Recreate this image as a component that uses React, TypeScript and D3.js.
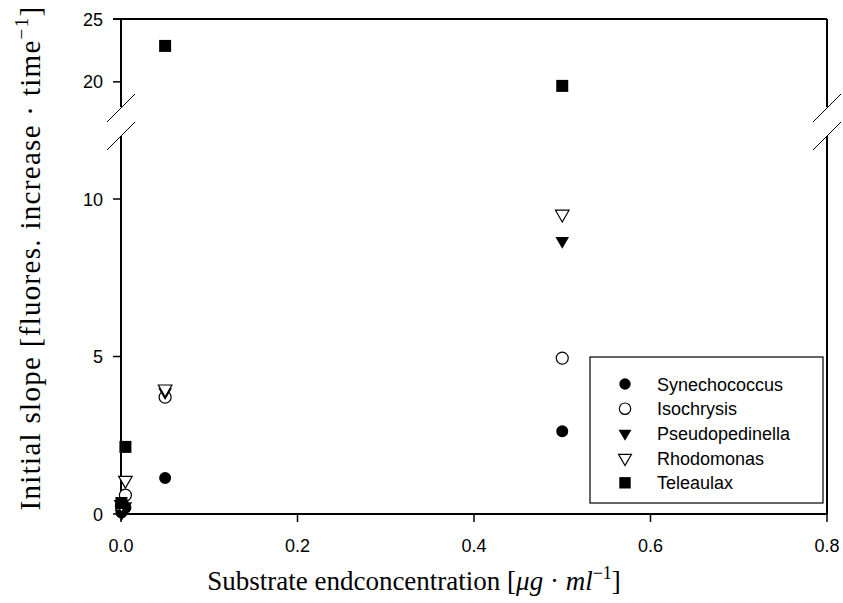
import React from "react";
import * as d3 from "d3";

const concentrations = [0.0005, 0.005, 0.05, 0.5];
const synechococcus = [0.05, 0.2, 1.14, 2.63];
const isochrysis = [0.25, 0.6, 3.71, 4.95];
const pseudopedinella = [0.02, 0.25, 3.87, 8.67];
const rhodomonas = [0.3, 1.07, 3.97, 9.52];
const teleaulax = [0.35, 2.13, 22.86, 19.68];

const seriesNames = ["Synechococcus", "Isochrysis", "Pseudopedinella", "Rhodomonas", "Teleaulax"];
const xTicks = [0, 0.2, 0.4, 0.6, 0.8];
const yTicksLow = [0, 5, 10];
const yTicksHigh = [20, 25];

type Style = { shape: "circle" | "tri" | "square"; fill: boolean };
const styles: Style[] = [
  { shape: "circle", fill: true },
  { shape: "circle", fill: false },
  { shape: "tri", fill: true },
  { shape: "tri", fill: false },
  { shape: "square", fill: true },
];
const seriesValues = [synechococcus, isochrysis, pseudopedinella, rhodomonas, teleaulax];

const L = 121, R = 827, T = 19, B = 514;
const x = d3.scaleLinear().domain([0, 0.8]).range([L, R]);
const yLow = d3.scaleLinear().domain([0, 12]).range([B, 136]);
const yHigh = d3.scaleLinear().domain([18, 25]).range([107, T]);
const y = (v: number) => (v <= 15 ? yLow(v) : yHigh(v));

function Marker({ cx, cy, st, scale = 1 }: { cx: number; cy: number; st: Style; scale?: number }) {
  let type: d3.SymbolType = d3.symbolCircle;
  let size = 113;
  let rot = 0;
  if (st.shape === "square") { type = d3.symbolSquare; size = 144; }
  if (st.shape === "tri") { type = d3.symbolTriangle; size = 80; rot = 180; }
  const path = d3.symbol().type(type).size(size * scale * scale)()!;
  return (
    <path
      d={path}
      transform={`translate(${cx},${cy}) rotate(${rot})`}
      fill={st.fill ? "#000" : "#fff"}
      stroke="#000"
      strokeWidth={st.fill ? 0 : 1.2}
    />
  );
}

export default function App() {
  const sans = "Liberation Sans";
  const serif = "Liberation Serif";
  const legX = 590, legY = 357, legW = 233, legH = 146;
  return (
    <svg width={843} height={603} style={{ position: "absolute", left: 0, top: 0, background: "#fff" }}>
      <rect x={0} y={0} width={843} height={603} fill="#fff" />
      <g stroke="#000" strokeWidth={2} fill="none">
        <line x1={L} y1={T} x2={L} y2={107} />
        <line x1={L} y1={136} x2={L} y2={B} />
        <line x1={R} y1={T} x2={R} y2={107} />
        <line x1={R} y1={136} x2={R} y2={B} />
        <line x1={L - 8} y1={T} x2={R} y2={T} />
        <line x1={L} y1={B} x2={R} y2={B} />
      </g>
      <g stroke="#000" strokeWidth={1} fill="none">
        {[L, R].map((ax) => (
          <g key={ax}>
            <line x1={ax - 14} y1={122} x2={ax + 14} y2={94} />
            <line x1={ax - 14} y1={150} x2={ax + 14} y2={122} />
          </g>
        ))}
      </g>
      {xTicks.map((t) => (
        <g key={t}>
          <line x1={x(t)} x2={x(t)} y1={B} y2={B + 8} stroke="#000" strokeWidth={1.5} />
          <text x={x(t)} y={552} textAnchor="middle" fontFamily={sans} fontSize={18}>
            {d3.format(".1f")(t)}
          </text>
        </g>
      ))}
      {[...yTicksLow, ...yTicksHigh].map((t) => (
        <g key={t}>
          <line x1={L - 8} x2={L} y1={y(t)} y2={y(t)} stroke="#000" strokeWidth={1.5} />
          <text x={103} y={y(t) + 6.5} textAnchor="end" fontFamily={sans} fontSize={18}>
            {t}
          </text>
        </g>
      ))}
      {seriesValues.map((vals, si) =>
        vals.map((v, i) => (
          <Marker key={`${si}-${i}`} cx={x(concentrations[i])} cy={y(v)} st={styles[si]} />
        ))
      )}
      <rect x={legX} y={legY} width={legW} height={legH} fill="#fff" stroke="#000" strokeWidth={1.2} />
      {seriesNames.map((name, i) => (
        <g key={name}>
          <Marker cx={625} cy={384 + i * 24.7} st={styles[i]} scale={0.95} />
          <text x={657} y={384 + i * 24.7 + 6.5} fontFamily={sans} fontSize={18}>
            {name}
          </text>
        </g>
      ))}
      <text x={414} y={590} textAnchor="middle" fontFamily={serif} fontSize={27}>
        Substrate endconcentration [<tspan fontStyle="italic">μg</tspan> · <tspan fontStyle="italic">ml</tspan>
        <tspan dy={-11} fontSize={18}>−1</tspan>
        <tspan dy={11}>]</tspan>
      </text>
      <text
        transform={`translate(40,258) rotate(-90)`}
        textAnchor="middle"
        fontFamily={serif}
        fontSize={29}
        letterSpacing={1.3}
      >
        Initial slope [fluores. increase · time<tspan dy={-12} fontSize={19}>−1</tspan>
        <tspan dy={12}>]</tspan>
      </text>
    </svg>
  );
}
